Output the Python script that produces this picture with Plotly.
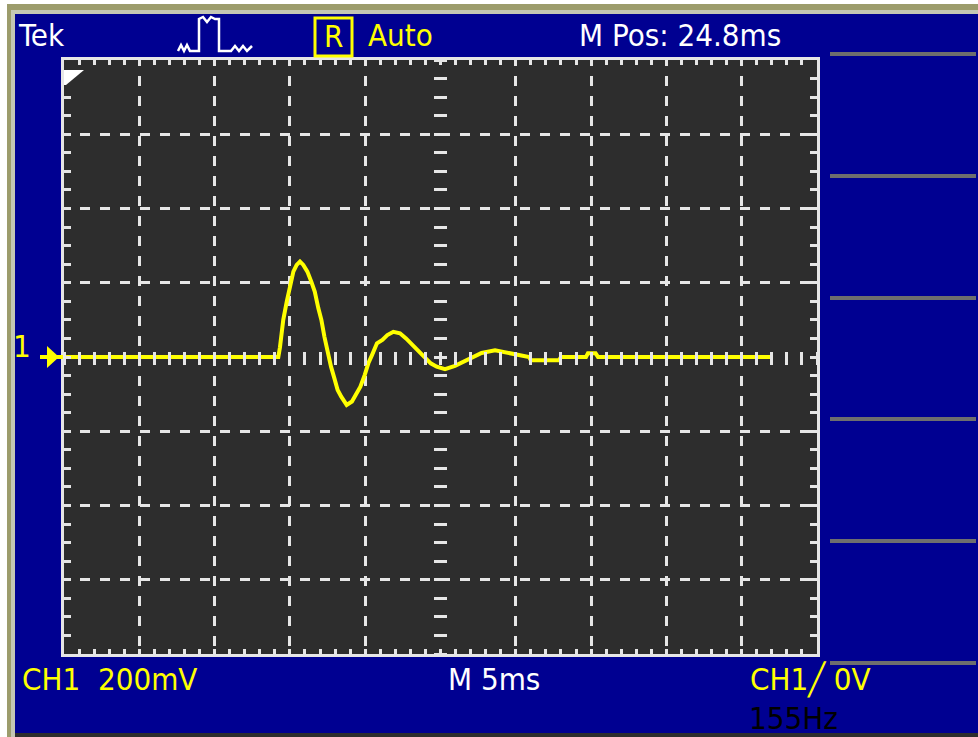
import plotly.graph_objects as go

# ---- data (time in ms, voltage in mV) ----
time_ms = [0, 14.23, 14.34, 14.56, 14.79, 15.01, 15.23, 15.45, 15.67, 15.89,
           16.16, 16.42, 16.65, 16.89, 17.09, 17.29, 17.51, 17.73, 17.95, 18.17,
           18.41, 18.77, 19.12, 19.39, 19.68, 19.97, 20.21, 20.45, 20.78, 21.14,
           21.47, 21.87, 22.31, 22.71, 23.02, 23.35, 23.69, 24.02, 24.35, 24.75,
           25.30, 25.96, 26.56, 27.22, 27.73, 28.62, 29.73, 30.50, 30.88, 31.00,
           32.87, 33.00, 34.66, 34.79, 35.30, 35.46, 47.08]
ch1_mV = [0, 0, 26, 100, 149, 194, 230, 248, 257, 248,
          230, 203, 176, 131, 100, 55, 10, -26, -57, -89,
          -107, -129, -120, -100, -80, -48, -17, 5, 37, 46,
          59, 68, 64, 50, 37, 23, 10, -4, -17, -26,
          -33, -24, -13, 1, 11, 18, 9, 2, 0, -9,
          -9, 0, 0, 10, 10, 0, 0]

x_range = [0, 50]          # 10 div x 5 ms
y_range = [-800, 800]      # 8 div x 200 mV
x_grid = [5, 10, 15, 20, 30, 35, 40, 45]
y_grid = [-600, -400, -200, 200, 400, 600]
x_minor = 1
y_minor = 50

top_texts = ["Tek", "Auto", "M Pos: 24.8ms"]
bottom_texts = ["CH1  200mV", "M 5ms", "CH1\u2571 0V", "155Hz"]

# ---- styling ----
W, H = 978, 737
L, R, T, B = 64, 161, 60, 83
PW, PH = W - L - R, H - T - B
BLUE = "#000091"
PLOTBG = "#2d2d2d"
GRID = "#e6e6e6"
YEL = "#ffff00"
MENU = "#6e6e6e"
FONT = "Liberation Sans Narrow, DejaVu Sans Condensed, Liberation Sans, Arial, sans-serif"


def px(xp):
    return (xp - L) / PW


def py(yp):
    return (H - B - yp) / PH


fig = go.Figure()
fig.add_trace(go.Scatter(x=time_ms, y=ch1_mV, mode="lines",
                         line=dict(color=YEL, width=4), hoverinfo="skip",
                         showlegend=False))
fig.add_trace(go.Scatter(x=[None], y=[None], xaxis="x2", yaxis="y",
                         showlegend=False, hoverinfo="skip"))
fig.add_trace(go.Scatter(x=[None], y=[None], xaxis="x", yaxis="y2",
                         showlegend=False, hoverinfo="skip"))

axis_common = dict(showticklabels=False, zeroline=False, showline=True,
                   linewidth=3, linecolor=GRID, mirror="ticks",
                   ticks="inside", tickwidth=3, tickcolor=GRID,
                   showgrid=True, gridcolor=GRID, gridwidth=3,
                   griddash="6px,10px,4px,0px", fixedrange=True)

fig.update_layout(
    width=W, height=H, autosize=False,
    margin=dict(l=L, r=R, t=T, b=B, pad=0),
    paper_bgcolor=BLUE, plot_bgcolor=PLOTBG,
    showlegend=False,
    xaxis=dict(range=x_range, tickmode="array", tickvals=x_grid, ticklen=5,
               minor=dict(tickmode="linear", tick0=0, dtick=x_minor, ticks="inside",
                          ticklen=5, tickwidth=3, tickcolor=GRID, showgrid=False),
               **axis_common),
    yaxis=dict(range=y_range, tickmode="array", tickvals=y_grid, ticklen=7,
               minor=dict(tickmode="linear", tick0=0, dtick=y_minor, ticks="inside",
                          ticklen=7, tickwidth=3, tickcolor=GRID, showgrid=False),
               **axis_common),
    xaxis2=dict(overlaying="x", anchor="free", position=0.5 + 6.5 / PH,
                range=x_range, tickmode="linear", tick0=0, dtick=x_minor,
                ticks="outside", ticklen=13, tickwidth=3, tickcolor=GRID,
                showticklabels=False, showgrid=False, zeroline=False,
                showline=False, fixedrange=True),
    yaxis2=dict(overlaying="y", anchor="free", position=0.5 + 6.5 / PW, side="left",
                range=y_range, tickmode="linear", tick0=0, dtick=y_minor,
                ticks="outside", ticklen=13, tickwidth=3, tickcolor=GRID,
                showticklabels=False, showgrid=False, zeroline=False,
                showline=False, fixedrange=True),
)

shapes = []


def rect(x0, y0, x1, y1, color):
    shapes.append(dict(type="rect", xref="paper", yref="paper",
                       x0=px(x0), x1=px(x1), y0=py(y1), y1=py(y0),
                       fillcolor=color, line=dict(width=0), layer="above"))


# outer frame strips
rect(0, 0, W, 4, "#ffffff")
rect(0, 0, 7, H, "#ffffff")
rect(7, 4, W, 10, "#9c9c6c")
rect(7, 4, 11, H, "#9c9c6c")
rect(11, 10, W, 14, "#c4c6b4")
rect(11, 10, 15, H, "#c4c6b4")
rect(15, 733, W, H, "#2d2d2d")

# right-hand menu separators
for yy in [54, 176, 298, 419, 541, 663]:
    rect(830, yy - 2, 976, yy + 2, MENU)


def path(points, close=True):
    s = "M " + " L ".join(f"{px(a):.5f},{py(b):.5f}" for a, b in points)
    return s + (" Z" if close else "")


# trigger position marker (top-left)
shapes.append(dict(type="path", xref="paper", yref="paper",
                   path=path([(64, 70), (84, 70), (66, 85), (64, 85)]),
                   fillcolor="#ffffff", line=dict(width=0), layer="above"))
# channel 1 ground arrow
shapes.append(dict(type="path", xref="paper", yref="paper",
                   path=path([(47, 346), (59, 357), (47, 368)]),
                   fillcolor=YEL, line=dict(width=0), layer="above"))
shapes.append(dict(type="line", xref="paper", yref="paper",
                   x0=px(40), x1=px(63), y0=py(357), y1=py(357),
                   line=dict(color=YEL, width=4), layer="above"))
# trigger icon
shapes.append(dict(type="path", xref="paper", yref="paper",
                   path=path([(178, 51), (181, 45), (184, 51), (187, 45), (190, 51),
                              (199, 51), (199, 19), (203, 17), (207, 22), (211, 17),
                              (215, 19), (219, 19), (219, 51), (231, 51), (235, 46),
                              (239, 51), (243, 46), (247, 51), (252, 46)], close=False),
                   line=dict(color="#ffffff", width=2.5), layer="above"))
# "R" box
shapes.append(dict(type="rect", xref="paper", yref="paper",
                   x0=px(315), x1=px(352), y0=py(56), y1=py(18),
                   line=dict(color=YEL, width=3), layer="above"))

fig.update_layout(shapes=shapes)

FS = 31


def text(s, x, y, color, anchor="left", size=FS):
    fig.add_annotation(text=s, xref="paper", yref="paper", x=px(x), y=py(y),
                       xanchor=anchor, yanchor="middle", showarrow=False,
                       font=dict(family=FONT, size=size, color=color))


text(top_texts[0], 16, 35, "#ffffff")
text("R", 333.5, 36, YEL, anchor="center")
text(top_texts[1], 366, 35, YEL)
text(top_texts[2], 577, 35, "#ffffff")
text("1", 21.5, 346, YEL, anchor="center")
text(bottom_texts[0], 20, 679, YEL)
text(bottom_texts[1], 446, 679, "#ffffff")
text(bottom_texts[2], 748, 679, YEL)
text(bottom_texts[3], 747, 718, "#000000")

fig.write_html("out.html",
               config={"displayModeBar": False, "staticPlot": True},
               post_script="document.body.style.margin='0';"
                           "document.body.style.overflow='hidden';")
